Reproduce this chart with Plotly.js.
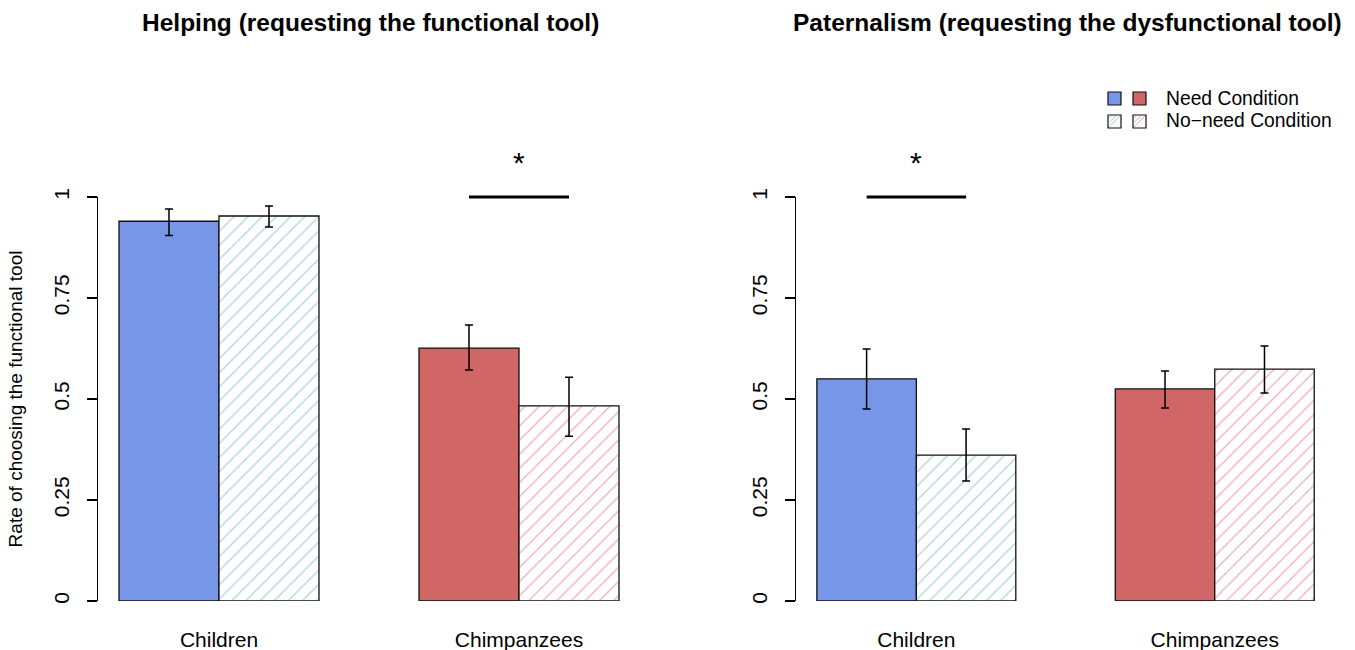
<!DOCTYPE html>
<html><head><meta charset="utf-8">
<script src="https://cdn.plot.ly/plotly-3.0.1.min.js"></script>
<style>html,body{margin:0;padding:0;background:#fff}#chart{width:1355px;height:650px}</style>
</head><body><div id="chart"></div>
<script>
const categories = ["Children", "Chimpanzees"];
const panelTitles = ["Helping (requesting the functional tool)", "Paternalism (requesting the dysfunctional tool)"];
const yTitle = "Rate of choosing the functional tool";
const tickVals = [0, 0.25, 0.5, 0.75, 1];
const tickText = ["0", "0.25", "0.5", "0.75", "1"];
const legendLabels = ["Need Condition", "No\u2212need Condition"];

// Helping
const helpNeed = [0.940, 0.626];
const helpNeedHi = [0.970, 0.683];
const helpNeedLo = [0.905, 0.572];
const helpNo = [0.953, 0.483];
const helpNoHi = [0.978, 0.554];
const helpNoLo = [0.926, 0.408];
// Paternalism
const patNeed = [0.550, 0.525];
const patNeedHi = [0.624, 0.569];
const patNeedLo = [0.475, 0.478];
const patNo = [0.361, 0.574];
const patNoHi = [0.426, 0.631];
const patNoLo = [0.297, 0.515];

// significance: panel index, category index
const sigMarks = [{panel: 0, cat: 1, label: "*"}, {panel: 1, cat: 0, label: "*"}];

const solidColors = ["#7896E8", "#D06666"];
const hatchColors = ["#A9D3DF", "#F0A9BF"];

const FONT = 'Liberation Sans, Arial, Helvetica, sans-serif';
const W = 1355, H = 650;
const barW = 1/3;
function px(x){return x / W;}
function py(y){return 1 - y / H;}

function errs(v, hi, lo){
  return {type:'data', symmetric:false, array: v.map((d,i)=>hi[i]-d), arrayminus: v.map((d,i)=>d-lo[i]),
          color:'#000', thickness:1.5, width:4};
}
function needTrace(v, hi, lo, xa, ya){
  return {type:'bar', x:categories, y:v, xaxis:xa, yaxis:ya, showlegend:false, hoverinfo:'y',
    marker:{color:solidColors, line:{color:'#111', width:1.3}}, error_y: errs(v,hi,lo)};
}
function noTrace(v, hi, lo, xa, ya){
  return {type:'bar', x:categories, y:v, xaxis:xa, yaxis:ya, showlegend:false, hoverinfo:'y',
    marker:{color:'#ffffff', line:{color:'#111', width:1.3},
      pattern:{shape:'/', fgcolor:hatchColors, bgcolor:'#ffffff', size:10, solidity:0.12}},
    error_y: errs(v,hi,lo)};
}

const data = [
  needTrace(helpNeed, helpNeedHi, helpNeedLo, 'x', 'y'),
  noTrace(helpNo, helpNoHi, helpNoLo, 'x', 'y'),
  needTrace(patNeed, patNeedHi, patNeedLo, 'x2', 'y2'),
  noTrace(patNo, patNoHi, patNoLo, 'x2', 'y2')
];

const yDomain = [py(601), py(197)];
function xAx(d0, d1, anchor){
  return {domain:[d0, d1], anchor:anchor, type:'category', range:[-0.4033, 1.47],
    showline:false, showgrid:false, zeroline:false, ticks:'', fixedrange:true,
    tickfont:{family:FONT, size:21, color:'#000'}, ticklabelstandoff:24};
}
function yAx(anchor, title){
  const a = {domain:yDomain, anchor:anchor, range:[0,1], showline:true, linecolor:'#000', linewidth:1.3,
    showgrid:false, zeroline:false, ticks:'outside', ticklen:10, tickwidth:1.3, tickcolor:'#000',
    tickvals:tickVals, ticktext:tickText, tickangle:-90, fixedrange:true,
    tickfont:{family:FONT, size:21, color:'#000'}, ticklabelstandoff:9};
  if (title) a.title = {text:title, standoff:22, font:{family:FONT, size:19, color:'#000'}};
  return a;
}

const shapes = [];
const annotations = [];
const titleCenters = [370, 1067];
panelTitles.forEach((t,i)=>annotations.push({xref:'paper', yref:'paper', x:px(titleCenters[i]), y:py(23),
  text:'<b>'+t+'</b>', showarrow:false, xanchor:'center', yanchor:'middle',
  font:{family:FONT, size:24.5, color:'#000'}}));

sigMarks.forEach(s=>{
  const xa = s.panel === 0 ? 'x' : 'x2';
  shapes.push({type:'line', xref:xa, yref:'paper', x0:s.cat - barW/2, x1:s.cat + barW/2, y0:yDomain[1], y1:yDomain[1],
    line:{color:'#000', width:2.8}});
  annotations.push({xref:xa, yref:'paper', x:s.cat, y:py(163), text:s.label, showarrow:false,
    xanchor:'center', yanchor:'middle', font:{family:FONT, size:30, color:'#000'}});
});

// Legend (custom: two swatches per entry)
const legX = [1108, 1133], legY = [92, 115], sq = 13;
legendLabels.forEach((lab, r)=>{
  legX.forEach((lx, c)=>{
    const x0 = px(lx), x1 = px(lx+sq), y0 = py(legY[r]+sq), y1 = py(legY[r]);
    if (r === 0) {
      shapes.push({type:'rect', xref:'paper', yref:'paper', x0, x1, y0, y1, fillcolor:solidColors[c], line:{color:'#111', width:1.2}});
    } else {
      shapes.push({type:'rect', xref:'paper', yref:'paper', x0, x1, y0, y1, fillcolor:'#fff', line:{color:'#111', width:1.2}});
      [0.33, 0.66, 1.0].forEach(f=>{
        shapes.push({type:'line', xref:'paper', yref:'paper', x0:px(lx + 1), y0:py(legY[r] + sq*f - 1),
          x1:px(lx + sq*f - 1), y1:py(legY[r] + 1), line:{color:hatchColors[c], width:1}});
      });
    }
  });
  annotations.push({xref:'paper', yref:'paper', x:px(1164), y:py(legY[r] + 6), text:lab, showarrow:false,
    xanchor:'left', yanchor:'middle', font:{family:FONT, size:19.3, color:'#000'}});
});

const layout = {
  width:W, height:H, margin:{l:0, r:0, t:0, b:0}, paper_bgcolor:'#fff', plot_bgcolor:'rgba(0,0,0,0)',
  barmode:'group', bargap:1/3, bargroupgap:0, showlegend:false,
  xaxis: xAx(px(98), px(660), 'y'),
  yaxis: yAx('x', yTitle),
  xaxis2: xAx(px(796), 1, 'y2'),
  yaxis2: yAx('x2', null),
  shapes, annotations,
  font:{family:FONT, color:'#000'}
};
Plotly.newPlot('chart', data, layout, {displayModeBar:false, staticPlot:true});
</script></body></html>
